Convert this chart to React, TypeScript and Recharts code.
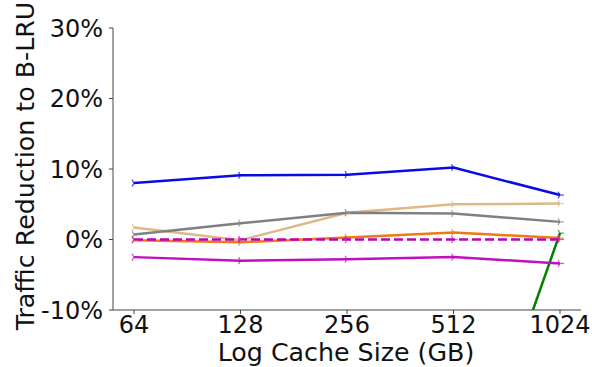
import { LineChart, Line, XAxis, YAxis } from 'recharts';

const cacheSizes = ['64', '128', '256', '512', '1024'];
const blueVals = [8.0, 9.1, 9.2, 10.2, 6.3];
const tanVals = [1.7, -0.1, 3.8, 5.0, 5.1];
const grayVals = [0.7, 2.3, 3.8, 3.7, 2.5];
const orangeVals = [-0.1, -0.4, 0.3, 1.0, 0.2];
const dashedVals = [0, 0, 0, 0, 0];
const purpleVals = [-2.5, -3.0, -2.8, -2.5, -3.4];
const greenVals = [null, null, null, -42, 0.9];
const yTicks = [-10, 0, 10, 20, 30];

const data = cacheSizes.map((size, i) => ({
  size,
  blue: blueVals[i],
  tan: tanVals[i],
  gray: grayVals[i],
  orange: orangeVals[i],
  dashed: dashedVals[i],
  purple: purpleVals[i],
  green: greenVals[i],
}));

const FONT = 'DejaVu Sans';

const triMarker = (color: string) => (props: any) => {
  const { cx, cy, value, index } = props;
  if (value == null || cx == null || cy == null || cy > 309 || cy < 28) return <g key={index} />;
  const r = 4;
  return (
    <g key={index} stroke={color} strokeWidth={1.2} opacity={0.7}>
      <line x1={cx} y1={cy} x2={cx + r} y2={cy} />
      <line x1={cx} y1={cy} x2={cx - r / 2} y2={cy - r * 0.87} />
      <line x1={cx} y1={cy} x2={cx - r / 2} y2={cy + r * 0.87} />
    </g>
  );
};

const series = [
  { key: 'green', color: '#008000' },
  { key: 'blue', color: '#0a0ae6' },
  { key: 'tan', color: '#deb887' },
  { key: 'gray', color: '#808080' },
  { key: 'orange', color: '#ee7a12' },
  { key: 'purple', color: '#c010c0' },
];

export default function App() {
  return (
    <div style={{ position: 'absolute', left: 0, top: 0, width: 592, height: 367, background: '#fff' }}>
      <LineChart width={592} height={367} data={data} margin={{ top: 28, right: 11, left: 0, bottom: 0 }} style={{ overflow: 'visible' }}>
        <XAxis
          dataKey="size"
          height={57}
          padding={{ left: 21, right: 21 }}
          tickSize={4}
          tickMargin={2}
          stroke="#444"
          interval={0}
          tick={{ fill: '#111', fontSize: 24, fontFamily: FONT }}
          label={{
            content: () => (
              <text x={346} y={361} textAnchor="middle" fill="#111" fontSize={25.3} fontFamily={FONT}>
                Log Cache Size (GB)
              </text>
            ),
          }}
        />
        <YAxis
          width={113}
          domain={[-10, 30]}
          ticks={yTicks}
          allowDataOverflow
          tickSize={4}
          tickMargin={6}
          stroke="#444"
          tickFormatter={(v: number) => `${v}%`}
          tick={{ fill: '#111', fontSize: 24, fontFamily: FONT }}
          label={{
            content: () => (
              <text x={34} y={166} transform="rotate(-90 34 166)" textAnchor="middle" fill="#111" fontSize={25.3} fontFamily={FONT}>
                Traffic Reduction to B-LRU
              </text>
            ),
          }}
        />
        {series.map((s) => (
          <Line
            key={s.key}
            dataKey={s.key}
            stroke={s.color}
            strokeWidth={2.5}
            dot={triMarker(s.color)}
            activeDot={false}
            isAnimationActive={false}
          />
        ))}
        <Line
          dataKey="dashed"
          stroke="#c000c0"
          strokeWidth={2.5}
          strokeDasharray="9 4"
          dot={triMarker('#c000c0')}
          activeDot={false}
          isAnimationActive={false}
        />
      </LineChart>
    </div>
  );
}
